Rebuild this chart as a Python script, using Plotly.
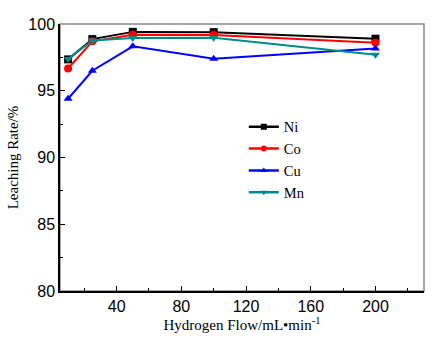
import plotly.graph_objects as go

flow = [10, 25, 50, 100, 200]
ni = [97.35, 98.87, 99.41, 99.39, 98.9]
co = [96.67, 98.7, 99.2, 99.18, 98.6]
cu = [94.4, 96.5, 98.33, 97.4, 98.16]
mn = [97.38, 98.77, 98.95, 98.97, 97.7]

series = [
    ("Ni", ni, "black", "square"),
    ("Co", co, "red", "circle"),
    ("Cu", cu, "blue", "triangle-up"),
    ("Mn", mn, "#008B8B", "triangle-down"),
]

fig = go.Figure()
for name, vals, color, sym in series:
    fig.add_trace(go.Scatter(
        x=flow, y=vals, name=name, mode="lines+markers", showlegend=False,
        line=dict(color=color, width=2),
        marker=dict(symbol=sym, size=8, color=color),
    ))
for name, vals, color, sym in series:
    fig.add_trace(go.Scatter(
        x=[None], y=[None], name=name, mode="lines+markers",
        line=dict(color=color, width=2.5),
        marker=dict(symbol=sym, size=6, color=color),
    ))

fig.add_shape(type="rect", xref="paper", yref="paper", x0=0, y0=0, x1=1, y1=1,
              line=dict(color="#888888", width=1.5), layer="below")

fig.update_layout(
    width=445, height=343,
    margin=dict(l=59, r=21, t=24, b=48),
    paper_bgcolor="white", plot_bgcolor="white",
    showlegend=True,
    legend=dict(x=0.505, y=0.675, xanchor="left", yanchor="top",
                font=dict(family="Liberation Serif", size=14.5, color="black"),
                bgcolor="rgba(0,0,0,0)", tracegroupgap=0, itemwidth=30),
    xaxis=dict(
        range=[5, 230], tickvals=[40, 80, 120, 160, 200],
        ticks="inside", ticklen=5, tickcolor="black", showgrid=False, zeroline=False,
        showline=True, linecolor="black", linewidth=1.5,
        minor=dict(tickvals=[20, 60, 100, 140, 180, 220], ticks="inside", ticklen=3, tickcolor="black"),
        tickfont=dict(family="Liberation Sans", size=16, color="black"),
        title=dict(text="Hydrogen Flow/mL•min<sup>-1</sup>", standoff=6,
                   font=dict(family="Liberation Serif", size=15, color="black")),
    ),
    yaxis=dict(
        range=[80, 100], tickvals=[80, 85, 90, 95, 100],
        ticks="inside", ticklen=5, tickcolor="black", showgrid=False, zeroline=False,
        showline=True, linecolor="black", linewidth=1.5,
        minor=dict(tickvals=[82.5, 87.5, 92.5, 97.5], ticks="inside", ticklen=3, tickcolor="black"),
        tickfont=dict(family="Liberation Sans", size=16, color="black"),
        title=dict(text="Leaching Rate/%", standoff=6,
                   font=dict(family="Liberation Serif", size=15, color="black")),
    ),
)

fig.write_html("out.html")
